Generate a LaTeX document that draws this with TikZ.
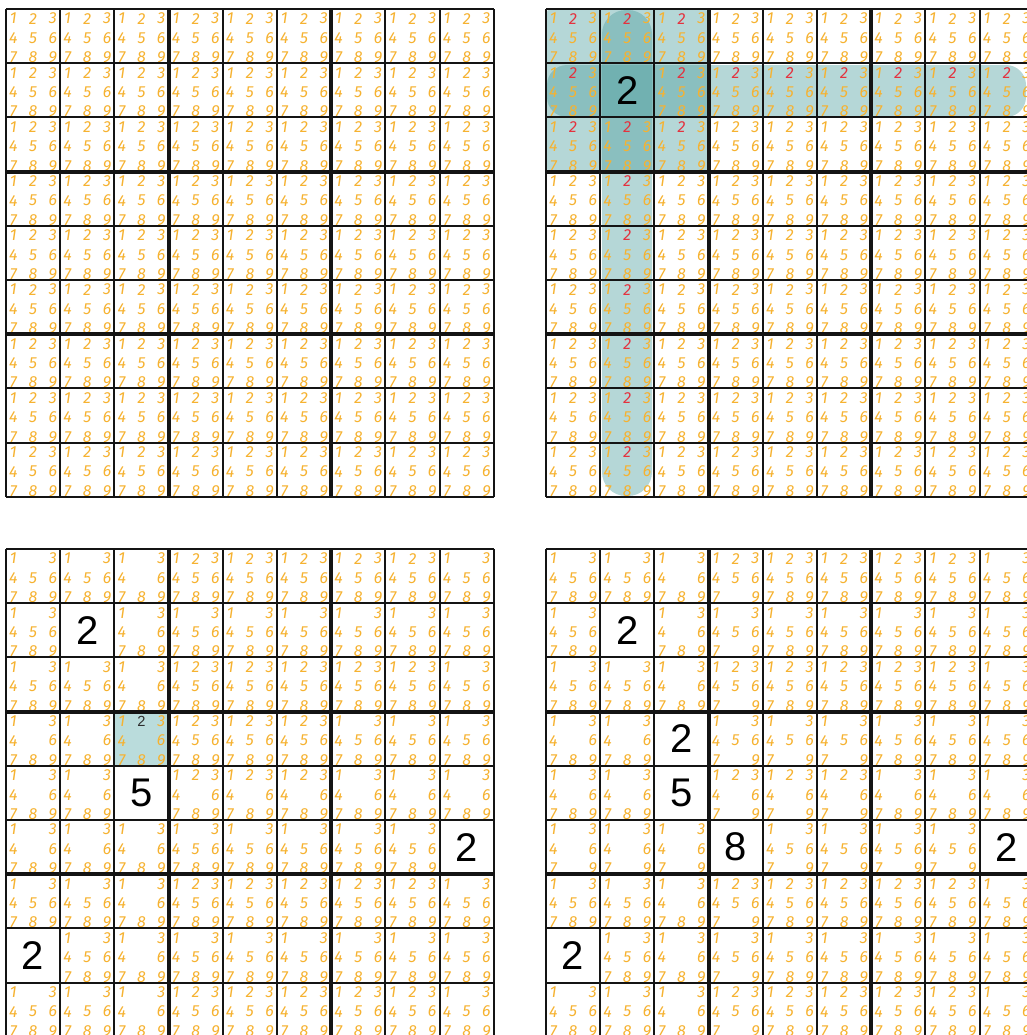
\documentclass[tikz,border=0pt]{standalone}
\usepackage{fontspec}
\setmainfont{Liberation Sans}
\newfontfamily\candfont{Fira Sans}
\definecolor{cand}{RGB}{246,178,48}
\definecolor{candred}{RGB}{228,50,62}
\definecolor{canddark}{RGB}{45,45,45}
\definecolor{hlteal}{RGB}{80,160,160}
\definecolor{cellhl}{RGB}{186,220,220}
\definecolor{gridline}{RGB}{20,20,20}
\tikzset{
  candstyle/.style={text=cand, font=\candfont\itshape\fontsize{12}{14}\selectfont, inner sep=0pt, anchor=center},
  darkcand/.style={text=canddark, font=\fontsize{11}{13}\selectfont, inner sep=0pt, anchor=center},
  bigdigit/.style={font=\fontsize{30}{32}\selectfont, inner sep=0pt, anchor=center, text=black},
  thinline/.style={draw=gridline, line width=1.4pt},
  thickline/.style={draw=gridline, line width=3pt},
  hl/.style={fill=hlteal, fill opacity=0.42},
}
\newcommand\sgw{54.2}
\def\sgspecial{none}
% candidates: #1 prefix, #2 ox, #3 oy, #4 placed list r/c/d, #5 mode (0 eliminate peers, 1 colour peers red)
\newcommand\sgcands[5]{%
 \foreach \rr in {1,...,9}{\foreach \cc in {1,...,9}{%
   \gdef\sgfilled{0}%
   \foreach \prr/\pcc/\pdd in {#4}{\ifnum\prr=\rr\relax\ifnum\pcc=\cc\relax\xdef\sgfilled{\pdd}\fi\fi}%
   \ifnum\sgfilled=0\relax
     \foreach \dd in {1,...,9}{%
       \gdef\sgst{0}%
       \foreach \prr/\pcc/\pdd in {#4}{%
         \ifnum\pdd=\dd\relax
           \ifnum\prr=\rr\relax\gdef\sgst{1}\fi
           \ifnum\pcc=\cc\relax\gdef\sgst{1}\fi
           \ifnum\numexpr(\prr-2)/3\relax=\numexpr(\rr-2)/3\relax
             \ifnum\numexpr(\pcc-2)/3\relax=\numexpr(\cc-2)/3\relax\gdef\sgst{1}\fi
           \fi
         \fi}%
       \pgfmathsetmacro\dx{#2+(\cc-1)*\sgw+27.1+19.7*(mod(\dd-1,3)-1)}%
       \pgfmathsetmacro\dy{#3+(\rr-1)*\sgw+29+19.4*(floor((\dd-1)/3)-1)}%
       \edef\sgcur{\rr-\cc-\dd}%
       \ifnum\sgst=0\relax
         \ifx\sgcur\sgspecial
           \node[darkcand] (#1-\rr-\cc-\dd) at (\dx,\dy) {\dd};
         \else
           \node[candstyle] (#1-\rr-\cc-\dd) at (\dx,\dy) {\dd};
         \fi
       \else
         \ifnum#5=1\relax
           \node[candstyle,text=candred] (#1-\rr-\cc-\dd) at (\dx,\dy) {\dd};
         \fi
       \fi
     }%
   \fi
 }}%
}
% placed digits
\newcommand\sgbig[4]{%
 \foreach \prr/\pcc/\pdd in {#4}{%
   \node[bigdigit] (#1-big-\prr-\pcc) at ({#2+(\pcc-0.5)*\sgw},{#3+(\prr-0.5)*\sgw}) {\pdd};
 }%
}
% grid lines
\newcommand\sglines[2]{%
 \foreach \ii in {0,...,9}{%
   \draw[thinline] ({#1+\ii*\sgw},{#2}) -- ({#1+\ii*\sgw},{#2+9*\sgw});
   \draw[thinline] ({#1},{#2+\ii*\sgw}) -- ({#1+9*\sgw},{#2+\ii*\sgw});
 }%
 \foreach \ii in {3,6}{%
   \draw[thickline] ({#1+\ii*\sgw},{#2}) -- ({#1+\ii*\sgw},{#2+9*\sgw});
   \draw[thickline] ({#1},{#2+\ii*\sgw}) -- ({#1+9*\sgw},{#2+\ii*\sgw});
 }%
}
\begin{document}
\begin{tikzpicture}[x=0.75pt,y=-0.75pt]
\useasboundingbox (0,0) rectangle (1027,1035);
\fill[white] (0,0) rectangle (1027,1035);

% ---------- top-left: all candidates ----------
\sgcands{tl}{6}{9}{0/0/0}{0}
\sglines{6}{9}

% ---------- top-right: 2 placed, peers highlighted ----------
\fill[hl, rounded corners=4] (546,9) rectangle (708.6,171.6);
\fill[hl, rounded corners=15] (547,65) rectangle (1026,117);
\fill[hl, rounded corners=18] (602,10) rectangle (652,496);
\sgcands{tr}{546}{9}{2/2/2}{1}
\sgbig{tr}{546}{9}{2/2/2}
\sglines{546}{9}

% ---------- bottom-left ----------
\fill[cellhl] (114.4,711.6) rectangle (168.6,765.8);
\def\sgspecial{4-3-2}
\sgcands{bl}{6}{549}{2/2/2,5/3/5,6/9/2,8/1/2}{0}
\def\sgspecial{none}
\sgbig{bl}{6}{549}{2/2/2,5/3/5,6/9/2,8/1/2}
\sglines{6}{549}

% ---------- bottom-right ----------
\sgcands{br}{546}{549}{2/2/2,4/3/2,5/3/5,6/4/8,6/9/2,8/1/2}{0}
\sgbig{br}{546}{549}{2/2/2,4/3/2,5/3/5,6/4/8,6/9/2,8/1/2}
\sglines{546}{549}
\end{tikzpicture}
\end{document}
